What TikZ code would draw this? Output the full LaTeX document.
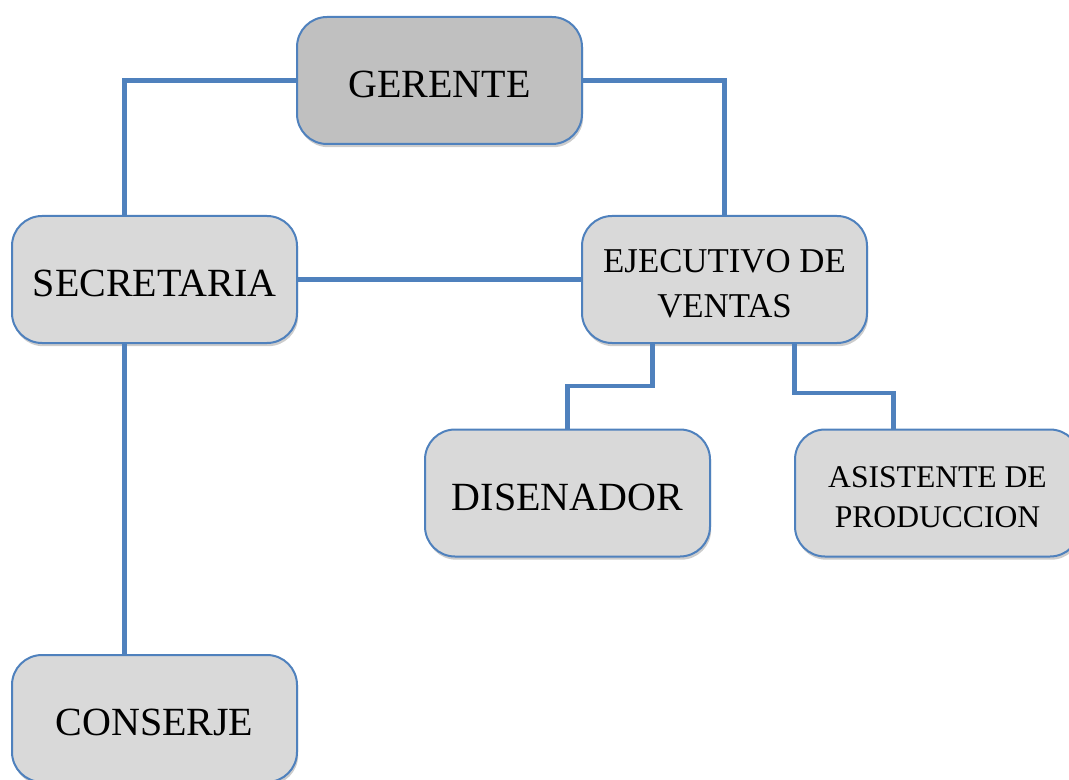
\documentclass[tikz,border=0pt]{standalone}
\usepackage{fontspec}
\setmainfont{Liberation Serif}
\usepackage{tikz}
\usetikzlibrary{positioning}
\usetikzlibrary{shadows}
\definecolor{azulborde}{RGB}{79,129,189}
\definecolor{grisclaro}{RGB}{217,217,217}
\definecolor{grisjefe}{RGB}{192,192,192}
\tikzset{
	puesto/.style={
		rectangle, 
		rounded corners=15pt, 
		fill=grisclaro,
		draw=azulborde, line width=1pt,
		minimum width=142.5pt, 
		minimum height=63.5pt, 
		align=center,
		font=\fontsize{17.4}{22.5}\selectfont,
		text height=38pt, text depth=0pt,
		drop shadow={shadow xshift=0.6pt, shadow yshift=-1.6pt, opacity=0.4}},
	jefe/.style={puesto, fill=grisjefe},
	grande/.style={font=\fontsize{20}{24}\selectfont, text height=17.2pt, text depth=0pt},
	chico/.style={font=\fontsize{15.8}{20}\selectfont, text height=34.5pt, text depth=0pt},
	linea/.style={draw=azulborde, line width=2.3pt},
}

\begin{document}
\begin{tikzpicture}
	 		[x=0.5pt, y=-0.5pt]
	 		\useasboundingbox (0,0) rectangle (1069,780);
	 		\node[jefe, grande] (gerente) at (439.5,80.5) {GERENTE};
	 		\node[puesto, grande] (secre) at (154.5,279.5) {SECRETARIA};
	 		\node[puesto] (ejec) at (724.5,279.5) {EJECUTIVO DE\\VENTAS};
	 		\node[puesto, grande] (disen) at (567.5,493) {DISENADOR};
	 		\node[puesto, chico] (asist) at (937.5,493) {ASISTENTE DE\\PRODUCCION};
	 		\node[puesto, grande] (conser) at (154.5,718.5) {CONSERJE};
	 		
	 		\draw[linea] (gerente.west) -| ([xshift=-15pt]secre.north);
	 		\draw[linea] (gerente.east) -| (ejec.north);
	 		\draw[linea] (secre.east) -- (ejec.west);
	 		\draw[linea] ([xshift=-15pt]secre.south) -- ([xshift=-15pt]conser.north);
	 		\draw[linea] ([xshift=-36pt]ejec.south) -- ++(0,-21pt) -| (disen.north);
	 		\draw[linea] ([xshift=35pt]ejec.south) -- ++(0,-24.5pt) -| ([xshift=-22pt]asist.north);
	 		
	 		\end{tikzpicture}
\end{document}
